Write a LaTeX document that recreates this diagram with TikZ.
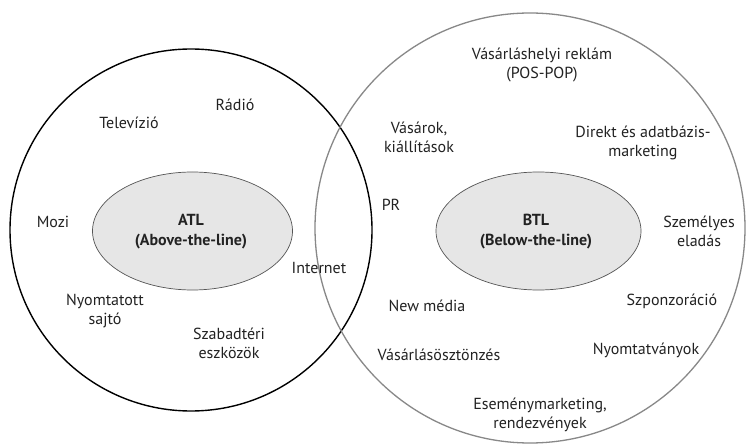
\documentclass[tikz,border=0pt]{standalone}
\usepackage{fontspec}
\setmainfont{PT Sans}
\definecolor{txt}{HTML}{222222}
\definecolor{ring}{HTML}{888888}
\definecolor{ellfill}{HTML}{E6E6E6}
\definecolor{ellline}{HTML}{555555}
\begin{document}
\begin{tikzpicture}[x=1pt,y=-1pt,
  lbl/.style={text=txt,font=\fontsize{16}{19}\selectfont,align=center,inner sep=0pt},
  core/.style={text=txt,font=\fontsize{16}{20}\selectfont\bfseries,align=center,inner sep=0pt},
  atlring/.style={draw=black,line width=1.4pt},
  btlring/.style={draw=ring,line width=1.3pt},
  inner/.style={draw=ellline,fill=ellfill,line width=0.7pt}]
\useasboundingbox (0,0) rectangle (747,446);
\fill[white] (0,0) rectangle (747,446);
% rings
\draw[atlring] (191,230) circle[radius=181];
\draw[btlring] (530,228) circle[radius=215];
% inner ellipses
\filldraw[inner] (192.5,231) ellipse[x radius=100,y radius=59];
\filldraw[inner] (538.5,231) ellipse[x radius=102.5,y radius=59];
\node[core] (atl) at (191,232) {ATL\\(Above-the-line)};
\node[core] (btl) at (536,232) {BTL\\(Below-the-line)};
% ATL items
\node[lbl] (tv) at (129,123) {Televízió};
\node[lbl] (radio) at (235,105) {Rádió};
\node[lbl] (mozi) at (53,222) {Mozi};
\node[lbl] (internet) at (319,268) {Internet};
\node[lbl] (nyomt) at (105,311) {Nyomtatott\\sajtó};
\node[lbl] (szabad) at (229,343) {Szabadtéri\\eszközök};
% BTL items
\node[lbl] (pos) at (542,65) {Vásárláshelyi reklám\\(POS-POP)};
\node[lbl] (vasar) at (419,137) {Vásárok,\\kiállítások};
\node[lbl] (direkt) at (643,143) {Direkt és adatbázis-\\marketing};
\node[lbl] (pr) at (391,205) {PR};
\node[lbl] (szem) at (699,231) {Személyes\\eladás};
\node[lbl] (newm) at (427,306) {New média};
\node[lbl] (szponz) at (672,301) {Szponzoráció};
\node[lbl] (vos) at (439,355) {Vásárlásösztönzés};
\node[lbl] (nyomtv) at (646,350) {Nyomtatványok};
\node[lbl] (esem) at (540,415) {Eseménymarketing,\\rendezvények};
\end{tikzpicture}
\end{document}
